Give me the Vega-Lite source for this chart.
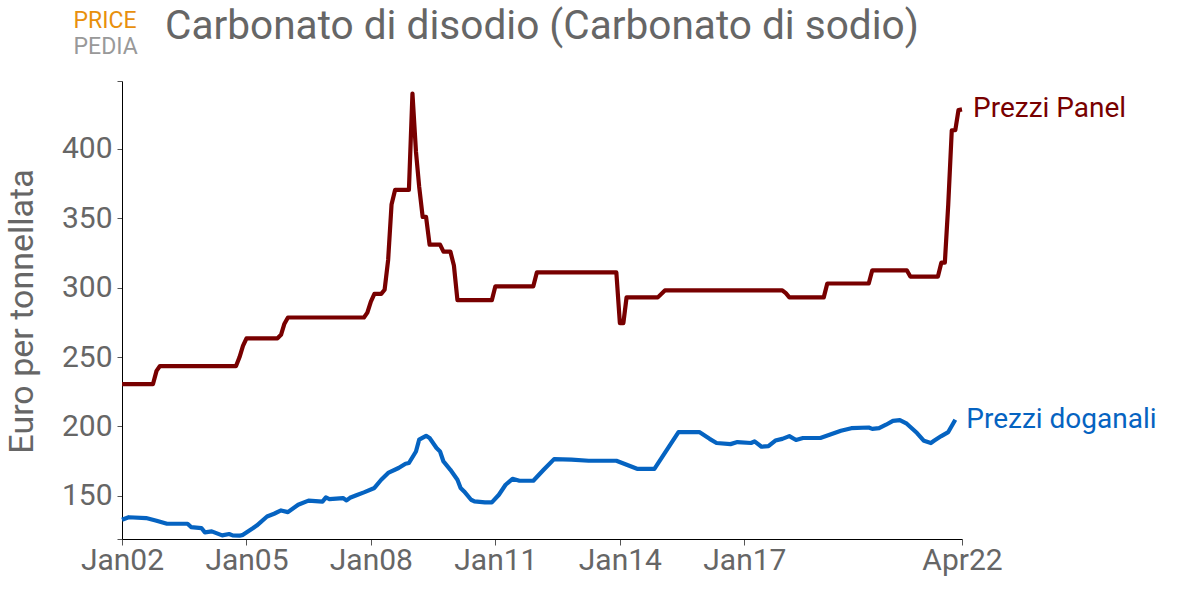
{
  "$schema": "https://vega.github.io/schema/vega-lite/v6.json",
  "width": 840,
  "height": 458,
  "autosize": {"type": "none"},
  "padding": {"left": 122, "top": 81, "right": 218, "bottom": 52},
  "background": "white",
  "config": {
    "view": {"stroke": null},
    "font": "Roboto",
    "axis": {"grid": false}
  },
  "title": {
    "text": "Carbonato di disodio (Carbonato di sodio)",
    "anchor": "start",
    "frame": "group",
    "dx": 43,
    "dy": 44,
    "offset": -26,
    "baseline": "alphabetic",
    "font": "Roboto",
    "fontSize": 40.6,
    "fontWeight": "normal",
    "color": "#666666"
  },
  "datasets": {
    "prices": [
      {"date": "2002-01-01", "serie": "Prezzi Panel", "value": 230.5},
      {"date": "2002-10-01", "serie": "Prezzi Panel", "value": 230.5},
      {"date": "2002-11-01", "serie": "Prezzi Panel", "value": 240},
      {"date": "2002-12-01", "serie": "Prezzi Panel", "value": 243.5},
      {"date": "2004-10-01", "serie": "Prezzi Panel", "value": 243.5},
      {"date": "2004-11-01", "serie": "Prezzi Panel", "value": 250},
      {"date": "2004-12-01", "serie": "Prezzi Panel", "value": 258},
      {"date": "2005-01-01", "serie": "Prezzi Panel", "value": 263.5},
      {"date": "2005-10-01", "serie": "Prezzi Panel", "value": 263.5},
      {"date": "2005-11-01", "serie": "Prezzi Panel", "value": 266},
      {"date": "2005-12-01", "serie": "Prezzi Panel", "value": 274},
      {"date": "2006-01-01", "serie": "Prezzi Panel", "value": 278.5},
      {"date": "2007-11-01", "serie": "Prezzi Panel", "value": 278.5},
      {"date": "2007-12-01", "serie": "Prezzi Panel", "value": 282},
      {"date": "2008-01-01", "serie": "Prezzi Panel", "value": 290},
      {"date": "2008-02-01", "serie": "Prezzi Panel", "value": 295.5},
      {"date": "2008-04-01", "serie": "Prezzi Panel", "value": 295.5},
      {"date": "2008-05-01", "serie": "Prezzi Panel", "value": 298.5},
      {"date": "2008-06-01", "serie": "Prezzi Panel", "value": 320},
      {"date": "2008-07-01", "serie": "Prezzi Panel", "value": 360},
      {"date": "2008-08-01", "serie": "Prezzi Panel", "value": 370.5},
      {"date": "2008-12-01", "serie": "Prezzi Panel", "value": 370.5},
      {"date": "2009-01-01", "serie": "Prezzi Panel", "value": 440},
      {"date": "2009-02-01", "serie": "Prezzi Panel", "value": 398},
      {"date": "2009-03-01", "serie": "Prezzi Panel", "value": 373},
      {"date": "2009-04-01", "serie": "Prezzi Panel", "value": 351},
      {"date": "2009-05-01", "serie": "Prezzi Panel", "value": 351},
      {"date": "2009-06-01", "serie": "Prezzi Panel", "value": 331},
      {"date": "2009-09-01", "serie": "Prezzi Panel", "value": 331},
      {"date": "2009-10-01", "serie": "Prezzi Panel", "value": 326},
      {"date": "2009-12-01", "serie": "Prezzi Panel", "value": 326},
      {"date": "2010-01-01", "serie": "Prezzi Panel", "value": 316},
      {"date": "2010-02-01", "serie": "Prezzi Panel", "value": 291},
      {"date": "2010-12-01", "serie": "Prezzi Panel", "value": 291},
      {"date": "2011-01-01", "serie": "Prezzi Panel", "value": 301},
      {"date": "2011-12-01", "serie": "Prezzi Panel", "value": 301},
      {"date": "2012-01-01", "serie": "Prezzi Panel", "value": 311},
      {"date": "2013-12-01", "serie": "Prezzi Panel", "value": 311},
      {"date": "2014-01-01", "serie": "Prezzi Panel", "value": 274.5},
      {"date": "2014-02-01", "serie": "Prezzi Panel", "value": 274.5},
      {"date": "2014-03-01", "serie": "Prezzi Panel", "value": 293},
      {"date": "2014-12-01", "serie": "Prezzi Panel", "value": 293},
      {"date": "2015-02-01", "serie": "Prezzi Panel", "value": 298},
      {"date": "2017-12-01", "serie": "Prezzi Panel", "value": 298},
      {"date": "2018-01-01", "serie": "Prezzi Panel", "value": 296},
      {"date": "2018-02-01", "serie": "Prezzi Panel", "value": 293},
      {"date": "2018-12-01", "serie": "Prezzi Panel", "value": 293},
      {"date": "2019-01-01", "serie": "Prezzi Panel", "value": 303},
      {"date": "2020-01-01", "serie": "Prezzi Panel", "value": 303},
      {"date": "2020-02-01", "serie": "Prezzi Panel", "value": 312.5},
      {"date": "2020-12-01", "serie": "Prezzi Panel", "value": 312.5},
      {"date": "2021-01-01", "serie": "Prezzi Panel", "value": 308},
      {"date": "2021-09-01", "serie": "Prezzi Panel", "value": 308},
      {"date": "2021-10-01", "serie": "Prezzi Panel", "value": 318},
      {"date": "2021-11-01", "serie": "Prezzi Panel", "value": 318},
      {"date": "2021-12-01", "serie": "Prezzi Panel", "value": 360},
      {"date": "2022-01-01", "serie": "Prezzi Panel", "value": 413.5},
      {"date": "2022-02-01", "serie": "Prezzi Panel", "value": 413.5},
      {"date": "2022-03-01", "serie": "Prezzi Panel", "value": 428},
      {"date": "2022-04-01", "serie": "Prezzi Panel", "value": 428.5},

      {"date": "2002-01-01", "serie": "Prezzi doganali", "value": 132.7},
      {"date": "2002-03-01", "serie": "Prezzi doganali", "value": 134.5},
      {"date": "2002-08-01", "serie": "Prezzi doganali", "value": 133.9},
      {"date": "2002-11-01", "serie": "Prezzi doganali", "value": 132},
      {"date": "2003-02-01", "serie": "Prezzi doganali", "value": 129.8},
      {"date": "2003-08-01", "serie": "Prezzi doganali", "value": 129.8},
      {"date": "2003-09-01", "serie": "Prezzi doganali", "value": 127.4},
      {"date": "2003-12-01", "serie": "Prezzi doganali", "value": 126.7},
      {"date": "2004-01-01", "serie": "Prezzi doganali", "value": 123.6},
      {"date": "2004-03-01", "serie": "Prezzi doganali", "value": 124.3},
      {"date": "2004-06-01", "serie": "Prezzi doganali", "value": 121.4},
      {"date": "2004-08-01", "serie": "Prezzi doganali", "value": 122.4},
      {"date": "2004-09-01", "serie": "Prezzi doganali", "value": 121.4},
      {"date": "2004-11-01", "serie": "Prezzi doganali", "value": 121.2},
      {"date": "2004-12-01", "serie": "Prezzi doganali", "value": 121.8},
      {"date": "2005-03-01", "serie": "Prezzi doganali", "value": 126.7},
      {"date": "2005-04-01", "serie": "Prezzi doganali", "value": 128.5},
      {"date": "2005-07-01", "serie": "Prezzi doganali", "value": 135},
      {"date": "2005-09-01", "serie": "Prezzi doganali", "value": 137},
      {"date": "2005-11-01", "serie": "Prezzi doganali", "value": 139.4},
      {"date": "2006-01-01", "serie": "Prezzi doganali", "value": 138.2},
      {"date": "2006-04-01", "serie": "Prezzi doganali", "value": 143.5},
      {"date": "2006-07-01", "serie": "Prezzi doganali", "value": 146.5},
      {"date": "2006-11-01", "serie": "Prezzi doganali", "value": 145.8},
      {"date": "2006-12-01", "serie": "Prezzi doganali", "value": 148.8},
      {"date": "2007-01-01", "serie": "Prezzi doganali", "value": 147.6},
      {"date": "2007-05-01", "serie": "Prezzi doganali", "value": 148.3},
      {"date": "2007-06-01", "serie": "Prezzi doganali", "value": 146.6},
      {"date": "2007-07-01", "serie": "Prezzi doganali", "value": 148.5},
      {"date": "2007-09-01", "serie": "Prezzi doganali", "value": 150.5},
      {"date": "2007-11-01", "serie": "Prezzi doganali", "value": 152.4},
      {"date": "2008-02-01", "serie": "Prezzi doganali", "value": 155.6},
      {"date": "2008-04-01", "serie": "Prezzi doganali", "value": 161.5},
      {"date": "2008-06-01", "serie": "Prezzi doganali", "value": 166.4},
      {"date": "2008-09-01", "serie": "Prezzi doganali", "value": 170},
      {"date": "2008-11-01", "serie": "Prezzi doganali", "value": 173.1},
      {"date": "2008-12-01", "serie": "Prezzi doganali", "value": 173.6},
      {"date": "2009-02-01", "serie": "Prezzi doganali", "value": 181.9},
      {"date": "2009-03-01", "serie": "Prezzi doganali", "value": 190.4},
      {"date": "2009-05-01", "serie": "Prezzi doganali", "value": 193.2},
      {"date": "2009-06-01", "serie": "Prezzi doganali", "value": 191.6},
      {"date": "2009-08-01", "serie": "Prezzi doganali", "value": 184.4},
      {"date": "2009-09-01", "serie": "Prezzi doganali", "value": 181.9},
      {"date": "2009-10-01", "serie": "Prezzi doganali", "value": 174.7},
      {"date": "2009-12-01", "serie": "Prezzi doganali", "value": 168.7},
      {"date": "2010-02-01", "serie": "Prezzi doganali", "value": 161.5},
      {"date": "2010-03-01", "serie": "Prezzi doganali", "value": 155.6},
      {"date": "2010-04-01", "serie": "Prezzi doganali", "value": 153.1},
      {"date": "2010-06-01", "serie": "Prezzi doganali", "value": 147.1},
      {"date": "2010-07-01", "serie": "Prezzi doganali", "value": 145.9},
      {"date": "2010-10-01", "serie": "Prezzi doganali", "value": 145.2},
      {"date": "2010-12-01", "serie": "Prezzi doganali", "value": 145.2},
      {"date": "2011-02-01", "serie": "Prezzi doganali", "value": 150.7},
      {"date": "2011-04-01", "serie": "Prezzi doganali", "value": 157.9},
      {"date": "2011-06-01", "serie": "Prezzi doganali", "value": 162.2},
      {"date": "2011-08-01", "serie": "Prezzi doganali", "value": 160.8},
      {"date": "2011-12-01", "serie": "Prezzi doganali", "value": 160.8},
      {"date": "2012-03-01", "serie": "Prezzi doganali", "value": 168.7},
      {"date": "2012-06-01", "serie": "Prezzi doganali", "value": 176.4},
      {"date": "2012-11-01", "serie": "Prezzi doganali", "value": 176},
      {"date": "2013-04-01", "serie": "Prezzi doganali", "value": 175.2},
      {"date": "2013-12-01", "serie": "Prezzi doganali", "value": 175.2},
      {"date": "2014-06-01", "serie": "Prezzi doganali", "value": 169.4},
      {"date": "2014-11-01", "serie": "Prezzi doganali", "value": 169.4},
      {"date": "2015-06-01", "serie": "Prezzi doganali", "value": 195.9},
      {"date": "2015-12-01", "serie": "Prezzi doganali", "value": 195.9},
      {"date": "2016-03-01", "serie": "Prezzi doganali", "value": 191},
      {"date": "2016-05-01", "serie": "Prezzi doganali", "value": 188},
      {"date": "2016-09-01", "serie": "Prezzi doganali", "value": 187.2},
      {"date": "2016-11-01", "serie": "Prezzi doganali", "value": 188.7},
      {"date": "2017-03-01", "serie": "Prezzi doganali", "value": 188},
      {"date": "2017-04-01", "serie": "Prezzi doganali", "value": 189.2},
      {"date": "2017-06-01", "serie": "Prezzi doganali", "value": 185.3},
      {"date": "2017-08-01", "serie": "Prezzi doganali", "value": 185.7},
      {"date": "2017-10-01", "serie": "Prezzi doganali", "value": 189.8},
      {"date": "2017-12-01", "serie": "Prezzi doganali", "value": 191},
      {"date": "2018-02-01", "serie": "Prezzi doganali", "value": 193},
      {"date": "2018-04-01", "serie": "Prezzi doganali", "value": 190.2},
      {"date": "2018-06-01", "serie": "Prezzi doganali", "value": 191.6},
      {"date": "2018-11-01", "serie": "Prezzi doganali", "value": 191.6},
      {"date": "2019-05-01", "serie": "Prezzi doganali", "value": 196.8},
      {"date": "2019-08-01", "serie": "Prezzi doganali", "value": 198.7},
      {"date": "2020-01-01", "serie": "Prezzi doganali", "value": 199.2},
      {"date": "2020-02-01", "serie": "Prezzi doganali", "value": 198.2},
      {"date": "2020-04-01", "serie": "Prezzi doganali", "value": 198.7},
      {"date": "2020-06-01", "serie": "Prezzi doganali", "value": 201.2},
      {"date": "2020-08-01", "serie": "Prezzi doganali", "value": 204},
      {"date": "2020-10-01", "serie": "Prezzi doganali", "value": 204.5},
      {"date": "2020-12-01", "serie": "Prezzi doganali", "value": 201.9},
      {"date": "2021-03-01", "serie": "Prezzi doganali", "value": 195.2},
      {"date": "2021-05-01", "serie": "Prezzi doganali", "value": 189.6},
      {"date": "2021-07-01", "serie": "Prezzi doganali", "value": 188},
      {"date": "2021-08-01", "serie": "Prezzi doganali", "value": 189.8},
      {"date": "2021-10-01", "serie": "Prezzi doganali", "value": 193},
      {"date": "2021-12-01", "serie": "Prezzi doganali", "value": 195.9},
      {"date": "2022-02-01", "serie": "Prezzi doganali", "value": 204.8}
    ],
    "logo": [
      {"text": "PRICE", "date": "2000-11-01", "value": 492.2, "kind": "a"},
      {"text": "PEDIA", "date": "2000-11-01", "value": 473.8, "kind": "b"}
    ]
  },
  "layer": [
    {
      "data": {"name": "prices"},
      "mark": {"type": "line", "strokeWidth": 4.2, "strokeJoin": "round", "strokeCap": "butt", "interpolate": "linear"},
      "encoding": {
        "x": {
          "field": "date",
          "type": "temporal",
          "scale": {
            "type": "utc",
            "domain": [
              {"year": 2002, "month": 1, "date": 1, "utc": true},
              {"year": 2022, "month": 4, "date": 1, "utc": true}
            ]
          },
          "axis": {
            "title": null,
            "values": [
              {"year": 2002, "month": 1, "date": 1, "utc": true},
              {"year": 2005, "month": 1, "date": 1, "utc": true},
              {"year": 2008, "month": 1, "date": 1, "utc": true},
              {"year": 2011, "month": 1, "date": 1, "utc": true},
              {"year": 2014, "month": 1, "date": 1, "utc": true},
              {"year": 2017, "month": 1, "date": 1, "utc": true},
              {"year": 2022, "month": 4, "date": 1, "utc": true}
            ],
            "labelExpr": "utcFormat(datum.value, '%b%y')",
            "labelFont": "Roboto",
            "labelFontSize": 30,
            "labelColor": "#666666",
            "labelPadding": 0,
            "labelOverlap": false,
            "labelFlush": false,
            "domainColor": "#000000",
            "domainWidth": 1,
            "tickColor": "#555555",
            "tickSize": 6,
            "tickWidth": 1
          }
        },
        "y": {
          "field": "value",
          "type": "quantitative",
          "scale": {"domain": [118.8, 449], "nice": false, "zero": false},
          "axis": {
            "title": "Euro per tonnellata",
            "titleFont": "Roboto",
            "titleFontSize": 34,
            "titleFontWeight": "normal",
            "titleColor": "#666666",
            "titleX": -100,
            "titleY": 230,
            "titleAngle": -90,
            "titleAlign": "center",
            "titleBaseline": "middle",
            "values": [118.8, 150, 200, 250, 300, 350, 400, 449],
            "labelExpr": "(datum.value % 50 == 0) ? datum.value : ''",
            "labelFont": "Roboto",
            "labelFontSize": 30,
            "labelColor": "#666666",
            "labelPadding": 5,
            "labelOverlap": false,
            "labelFlush": false,
            "domainColor": "#000000",
            "domainWidth": 1,
            "tickColor": "#555555",
            "tickSize": 5,
            "tickWidth": 1
          }
        },
        "color": {
          "field": "serie",
          "type": "nominal",
          "scale": {"domain": ["Prezzi Panel", "Prezzi doganali"], "range": ["#780000", "#0563C1"]},
          "legend": null
        }
      }
    },
    {
      "data": {"name": "prices"},
      "transform": [
        {"calculate": "toDate(datum.date)", "as": "t"},
        {"joinaggregate": [{"op": "max", "field": "t", "as": "tmax"}], "groupby": ["serie"]},
        {"filter": "datum.t == datum.tmax"}
      ],
      "mark": {"type": "text", "align": "left", "baseline": "middle", "dx": 11, "font": "Roboto", "fontSize": 28},
      "encoding": {
        "x": {"field": "date", "type": "temporal"},
        "y": {"field": "value", "type": "quantitative"},
        "text": {"field": "serie"},
        "color": {"field": "serie", "type": "nominal", "legend": null}
      }
    },
    {
      "data": {"name": "logo"},
      "mark": {"type": "text", "align": "left", "baseline": "middle", "font": "Roboto", "fontSize": 23},
      "encoding": {
        "x": {"field": "date", "type": "temporal"},
        "y": {"field": "value", "type": "quantitative"},
        "text": {"field": "text"},
        "fontWeight": {"condition": {"test": "datum.kind == 'a'", "value": "bold"}, "value": 300},
        "color": {"condition": {"test": "datum.kind == 'a'", "value": "#E8900C"}, "value": "#999999"}
      }
    }
  ]
}
